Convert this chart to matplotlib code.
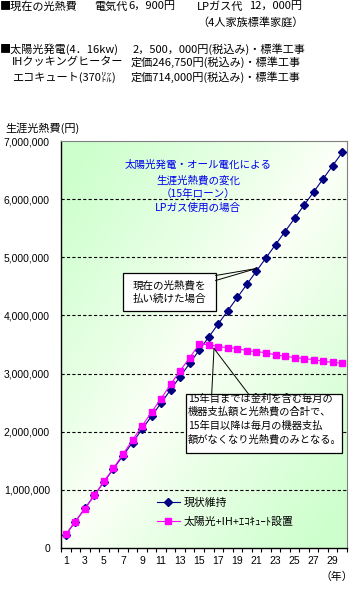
import numpy as np
import matplotlib
matplotlib.use('Agg')
import matplotlib.pyplot as plt
from matplotlib.lines import Line2D
from matplotlib.patches import Rectangle

plt.rcParams['font.family'] = ['Noto Sans CJK JP', 'DejaVu Sans']
plt.rcParams['lines.scale_dashes'] = False

# ---------------- data ----------------
years = list(range(1, 31))
current_cost = [226800, 453600, 680400, 907200, 1134000, 1360800, 1587600, 1814400,
                2041200, 2268000, 2494800, 2721600, 2948400, 3175200, 3402000, 3628800,
                3855600, 4082400, 4309200, 4536000, 4762800, 4989600, 5216400, 5443200,
                5670000, 5896800, 6123600, 6350400, 6577200, 6804000]
solar_cost = [235000, 455000, 672000, 906000, 1145000, 1372000, 1615000, 1856000,
              2098000, 2338000, 2570000, 2815000, 3050000, 3275000, 3505000, 3500000,
              3463000, 3446000, 3429000, 3394000, 3377000, 3360000, 3320000, 3300000,
              3274000, 3257000, 3240000, 3211000, 3194000, 3177000]
series_labels = ['現状維持', '太陽光+IH+ｴｺｷｭｰﾄ設置']
y_ticks = [0, 1000000, 2000000, 3000000, 4000000, 5000000, 6000000, 7000000]
y_ticklabels = ['0', '1,000,000', '2,000,000', '3,000,000', '4,000,000',
                '5,000,000', '6,000,000', '7,000,000']
x_ticks = list(range(1, 30, 2))

W, H = 363, 591
fig = plt.figure(figsize=(W / 100, H / 100), dpi=100)


def fx(x):
    return x / W


def fy(y):
    return 1 - y / H


ax = fig.add_axes([fx(61), fy(548), (347 - 61) / W, (548 - 141) / H])

# gradient background
n = 300
gx, gy = np.meshgrid(np.linspace(0, 1, n), np.linspace(0, 1, n))
t = np.abs(gx + gy - 1.0)
t = np.clip(t * 1.1, 0, 1) ** 0.85
green = np.array([204, 255, 204]) / 255.0
white = np.array([253, 255, 248]) / 255.0
img = white[None, None, :] * (1 - t[..., None]) + green[None, None, :] * t[..., None]
ax.imshow(img, extent=[0, 1, 0, 1], transform=ax.transAxes, aspect='auto', zorder=0,
          interpolation='bilinear')

# grid lines
for v in y_ticks[1:-1]:
    ax.axhline(v, color='black', lw=0.8, ls=(0, (2.3, 1.6)), zorder=1)

l1, = ax.plot(years, current_cost, color='#000080', lw=0.8, marker='D', markersize=3.6,
              markerfacecolor='#000080', markeredgecolor='#000080', zorder=3)
l2, = ax.plot(years, solar_cost, color='#ff00ff', lw=0.8, marker='s', markersize=4.5,
              markerfacecolor='#ff00ff', markeredgecolor='#ff00ff', zorder=3)

ax.set_xlim(0.5, 30.5)
ax.set_ylim(0, 7000000)
ax.set_yticks(y_ticks)
ax.set_yticklabels(y_ticklabels, fontfamily='Liberation Sans', fontsize=7.5)
ax.tick_params(axis='y', length=0, pad=8)
ax.set_xticks(x_ticks)
ax.set_xticklabels([str(v) for v in x_ticks], fontfamily='Liberation Sans', fontsize=7.5)
ax.set_xticks(np.arange(0.5, 31, 1), minor=True)
ax.tick_params(axis='x', which='major', length=0, pad=6)
ax.tick_params(axis='x', which='minor', length=3, direction='out', width=0.8)

for s in ['left', 'bottom']:
    ax.spines[s].set_color('black')
    ax.spines[s].set_linewidth(1.0)
for s in ['top', 'right']:
    ax.spines[s].set_color('#808080')
    ax.spines[s].set_linewidth(0.8)

# legend
ax.legend([l1, l2], series_labels, loc='upper left', bbox_to_anchor=(fx(157), fy(498)),
          bbox_transform=fig.transFigure, frameon=False, borderpad=0, borderaxespad=0,
          handlelength=2.1, handletextpad=0.35, labelspacing=0.75, fontsize=7.8)

# in-plot title
title_lines = ['太陽光発電・オール電化による', '生涯光熱費の変化', '（15年ローン）', 'LPガス使用の場合']
for txt, yy in zip(title_lines, [165, 180, 193.5, 208]):
    fig.text(fx(198), fy(yy), txt, color='#0000ee', fontsize=7.6, ha='center', va='center')

# top texts
top_font = 8
top_items = [
    (0, 7, '■現在の光熱費'), (94, 7, '電気代'), (128, 7, '6，900円'),
    (197, 7, 'LPガス代'), (249, 7, '12，000円'),
    (197, 22, '（4人家族標準家庭）'),
    (0, 49.5, '■太陽光発電(4．16kw)'), (133, 49.5, '2，500，000円(税込み)・標準工事'),
    (12, 62.5, 'IHクッキングヒーター'), (131, 62.5, '定価246,750円(税込み)・標準工事'),
    (12, 77, 'エコキュート(370㍑)'), (131, 77, '定価714,000円(税込み)・標準工事'),
]
for x, y, s in top_items:
    fig.text(fx(x), fy(y), s, fontsize=top_font, ha='left', va='center')

# axis titles
fig.text(fx(5), fy(128), '生涯光熱費(円)', fontsize=8, ha='left', va='center')
fig.text(fx(337), fy(577), '（年）', fontsize=7.8, ha='center', va='center')


# callout boxes
def box(x0, y0, x1, y1):
    fig.add_artist(Rectangle((fx(x0), fy(y1)), (x1 - x0) / W, (y1 - y0) / H,
                             transform=fig.transFigure, fc='white', ec='black', lw=0.9,
                             zorder=5))


def seg(p, q):
    fig.add_artist(Line2D([fx(p[0]), fx(q[0])], [fy(p[1]), fy(q[1])],
                          transform=fig.transFigure, color='black', lw=0.7, zorder=6))


# box 1
box(123.3, 273.3, 215.7, 310.7)
fig.text(fx(169.5), fy(285.7), '現在の光熱費を', fontsize=7.6, ha='center', va='center', zorder=7)
fig.text(fx(169.5), fy(298.7), '払い続けた場合', fontsize=7.6, ha='center', va='center', zorder=7)
seg((215.7, 275.5), (256.5, 268.5))
seg((215.7, 280.5), (256.5, 268.5))

# box 2
box(185.7, 394, 342, 453)
box2_lines = ['15年目までは金利を含む毎月の', '機器支払額と光熱費の合計で、',
              '15年目以降は毎月の機器支払', '額がなくなり光熱費のみとなる。']
for s, yy in zip(box2_lines, [398.5, 412, 426, 439.5]):
    fig.text(fx(188), fy(yy), s, fontsize=7.4, ha='left', va='center', zorder=7)
seg((211.7, 394), (214, 348.5))
seg((248.5, 394), (214, 348.5))

fig.savefig('out.png', dpi=100)
